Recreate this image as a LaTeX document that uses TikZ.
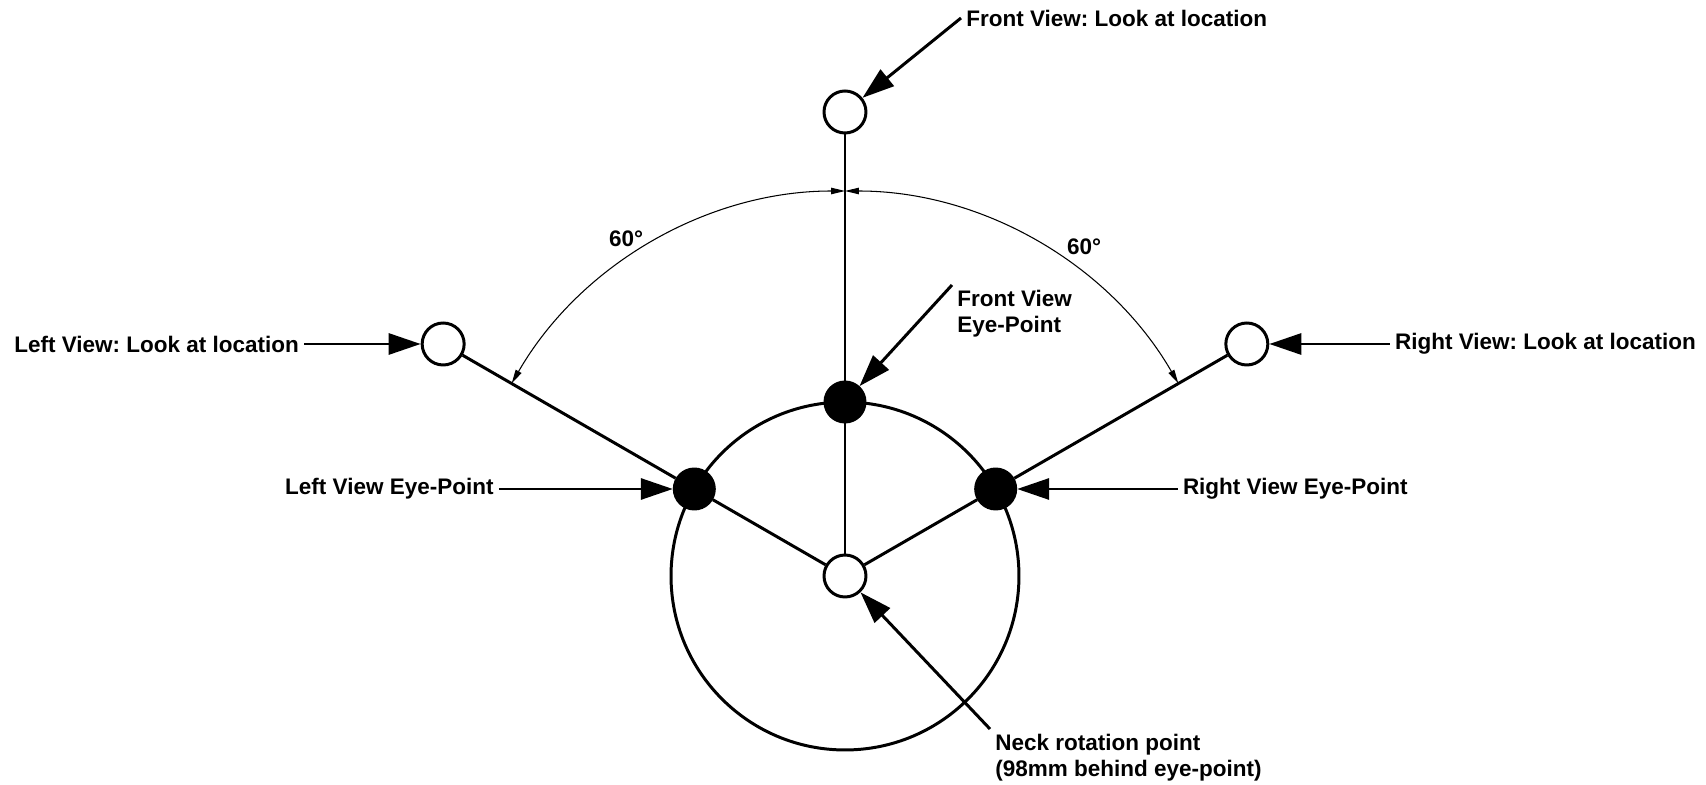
\documentclass[tikz,border=0pt]{standalone}
\usepackage{fontspec}
\setmainfont{Liberation Sans}
\usetikzlibrary{positioning,arrows.meta}
\frenchspacing

\begin{document}
\begin{tikzpicture}[x=0.02cm,y=0.02cm,
    every node/.style={font=\fontsize{12.8}{14.8}\selectfont\bfseries},
    target/.style={circle,draw,line width=1.7pt,fill=white,minimum size=0.84cm,inner sep=0pt},
    eyept/.style={circle,draw,line width=1.7pt,fill=black,minimum size=0.8cm,inner sep=0pt},
    txt/.style={inner sep=0.1cm,align=left},
    spoke/.style={line width=1.7pt},
    pointer/.style={line width=1.7pt,-{Triangle[length=0.64cm,width=0.42cm]}},
    anglearc/.style={line width=0.6pt,{Triangle[length=0.28cm,width=0.13cm]}-{Triangle[length=0.28cm,width=0.13cm]}}]
    \useasboundingbox (-845,-208) rectangle (861,576);
    % head outline
    \draw[line width=1.7pt] (0,0) circle[radius=3.48cm];
    % rotation point, eye-points, look at locations
    \node[target] (neck) at (0,0) {};
    \node[eyept] (eyeF) at (90:174) {};
    \node[eyept] (eyeL) at (150:174) {};
    \node[eyept] (eyeR) at (30:174) {};
    \node[target] (lookF) at (90:464) {};
    \node[target] (lookL) at (150:464) {};
    \node[target] (lookR) at (30:464) {};
    \draw[spoke] (neck) -- (eyeF) -- (lookF);
    \draw[spoke] (neck) -- (eyeL) -- (lookL);
    \draw[spoke] (neck) -- (eyeR) -- (lookR);
    % 60 degree arcs
    \draw[anglearc] (90:385) arc[start angle=90,end angle=150,radius=7.7cm];
    \draw[anglearc] (90:385) arc[start angle=90,end angle=30,radius=7.7cm];
    \node (degL) at (123:402) {60°};
    \node (degR) at (54:407) {60°};
    % labels
    \node[txt,anchor=west] (flab) at (116,558) {Front View: Look at location};
    \node[txt,left=2.33cm of lookL] (llab) {Left View: Look at location};
    \node[txt,right=2.41cm of lookR] (rlab) {Right View: Look at location};
    \node[txt,left=3.48cm of eyeL] (lelab) {Left View Eye-Point};
    \node[txt,right=3.21cm of eyeR] (relab) {Right View Eye-Point};
    \node[txt,anchor=north west] (fvlab) at (107,291) {Front View\\Eye-Point};
    \node[txt,anchor=north west] (necklab) at (145,-153) {Neck rotation point\\(98mm behind eye-point)};
    \draw[pointer] (flab.west) -- (lookF);
    \draw[pointer] (llab.east) -- (lookL);
    \draw[pointer] (rlab.west) -- (lookR);
    \draw[pointer] (lelab.east) -- (eyeL);
    \draw[pointer] (relab.west) -- (eyeR);
    \draw[pointer] (fvlab.north west) -- (eyeF);
    \draw[pointer] (necklab.north west) -- (neck);
\end{tikzpicture}
\end{document}
